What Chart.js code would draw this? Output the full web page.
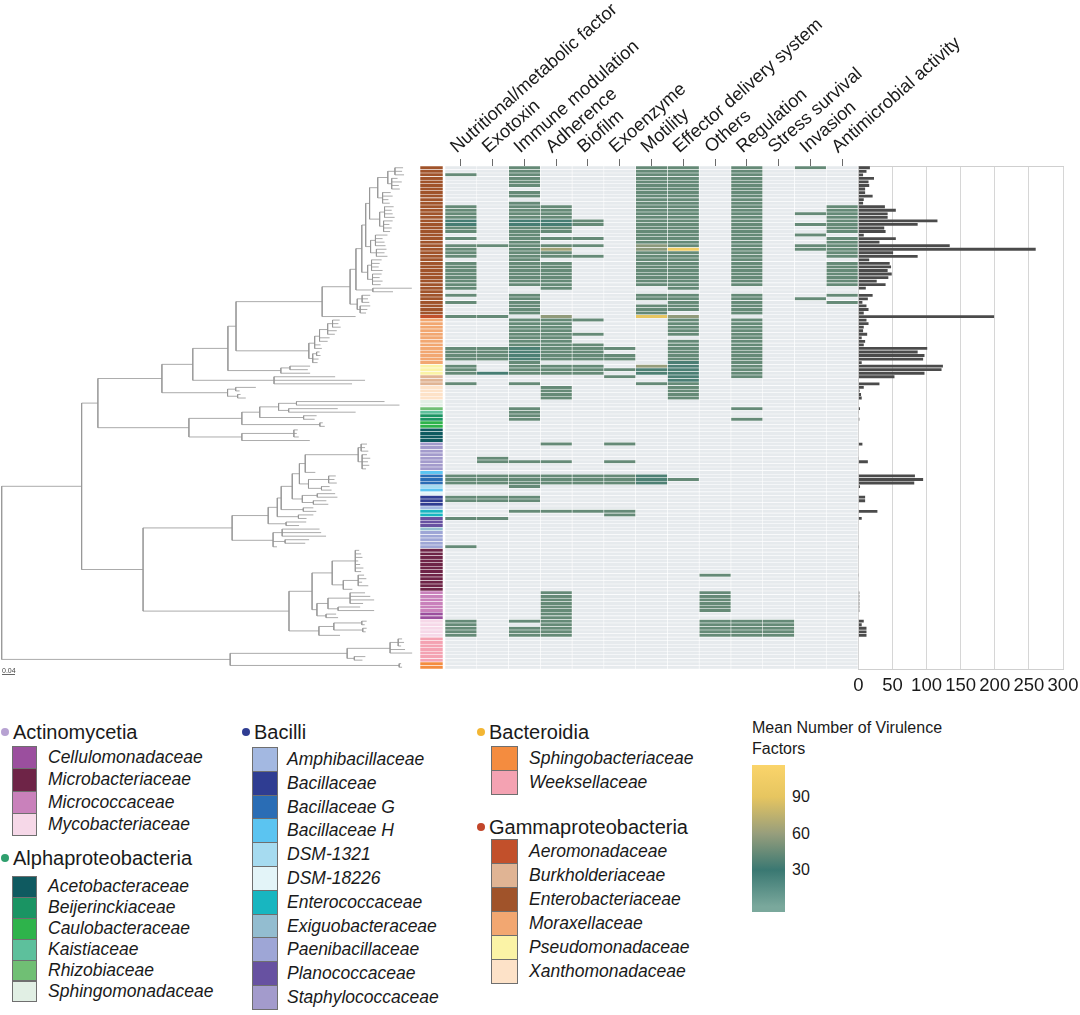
<!DOCTYPE html>
<html>
<head>
<meta charset="utf-8">
<script src="https://cdn.jsdelivr.net/npm/chart.js@4.4.1/dist/chart.umd.min.js"></script>
<style>
  html, body { margin: 0; padding: 0; background: #fff; }
  body { width: 1080px; height: 1015px; position: relative; overflow: hidden;
         font-family: 'Liberation Sans', Arial, Helvetica, sans-serif; color: #1a1a1a; }
  canvas { position: absolute; }
  .hdr { position: absolute; white-space: nowrap; font-size: 20px; line-height: 22px; }
  .dot { position: absolute; width: 8px; height: 8px; border-radius: 50%; }
  .sw { position: absolute; box-sizing: border-box; border: 1px solid #6f6f6f; }
  .fam { position: absolute; white-space: nowrap; font-style: italic; font-size: 17.5px; line-height: 20px; }
  .cbt { position: absolute; white-space: nowrap; font-size: 16px; line-height: 18px; }
  #scalebar { position: absolute; left: 2px; top: 667px; width: 13px; font-size: 7px; line-height: 7px;
              text-align: center; color: #444; border-bottom: 1px solid #666; }
</style>
</head>
<body>
<canvas id="tree" width="420" height="680" style="left:0;top:0"></canvas>
<canvas id="heat" width="665" height="680" style="left:415px;top:0"></canvas>
<canvas id="bars" width="240" height="700" style="left:840px;top:0"></canvas>
<div id="scalebar">0.04</div>
<div id="legend"></div>
<script>
// ---- data -------------------------------------------------------------

const vfCategories = ['Nutritional/metabolic factor', 'Exotoxin', 'Immune modulation', 'Adherence',
  'Biofilm', 'Exoenzyme', 'Motility', 'Effector delivery system', 'Others', 'Regulation',
  'Stress survival', 'Invasion', 'Antimicrobial activity'];

// family of each tip, top to bottom: [family, number of tips]
const rowFamilies = [
  ['Enterobacteriaceae', 42], ['Aeromonadaceae', 1], ['Moraxellaceae', 13], ['Pseudomonadaceae', 3],
  ['Burkholderiaceae', 3], ['Xanthomonadaceae', 4], ['Sphingomonadaceae', 2], ['Rhizobiaceae', 1],
  ['Kaistiaceae', 1], ['Beijerinckiaceae', 2], ['Caulobacteraceae', 2], ['Acetobacteraceae', 4],
  ['Staphylococcaceae', 8], ['Bacillaceae H', 1], ['Bacillaceae G', 3], ['DSM-1321', 1],
  ['Bacillaceae H', 1], ['DSM-18226', 1], ['Bacillaceae', 3], ['Amphibacillaceae', 1],
  ['Enterococcaceae', 2], ['Planococcaceae', 3], ['Exiguobacteraceae', 1], ['Paenibacillaceae', 5],
  ['Microbacteriaceae', 12], ['Micrococcaceae', 6], ['Cellulomonadaceae', 2], ['Mycobacteriaceae', 5],
  ['Weeksellaceae', 7], ['Sphingobacteriaceae', 2]
];

// mean number of virulence factors, as runs of tips: [first row, last row, value]
const nutritionalMetabolic = [[2,2,44],[11,14,44],[15,16,34],[17,18,44],[20,20,44],[22,25,44],[27,34,44],
  [36,36,44],[38,38,44],[42,42,44],[51,54,44],[56,58,44],[61,61,44],[87,89,44],[93,94,44],[99,99,44],
  [107,107,44],[128,132,44]];
const exotoxin = [[22,22,44],[42,42,44],[51,54,44],[58,58,34],[82,83,44],[87,89,44],[93,94,44],[99,99,44]];
const immuneModulation = [[0,5,44],[7,8,44],[10,14,44],[15,16,34],[17,33,44],[36,41,44],[43,50,44],
  [51,54,36],[55,58,44],[61,61,44],[68,71,44],[83,83,44],[87,90,44],[93,94,44],[97,97,44],
  [128,128,44],[130,132,44]];
const adherence = [[11,14,44],[15,16,34],[17,18,44],[20,20,44],[22,22,44],[23,23,64],[24,25,44],
  [27,34,44],[42,42,58],[43,54,44],[56,58,44],[62,65,44],[78,78,44],[83,83,44],[87,89,44],[97,97,44],
  [120,132,44]];
const biofilm = [[15,16,44],[20,20,44],[22,22,44],[25,25,44],[43,43,44],[47,47,44],[50,54,44],
  [56,58,44],[87,89,44],[97,97,44]];
const exoenzyme = [[51,51,44],[53,54,44],[57,57,44],[59,59,44],[78,78,44],[83,83,44],[87,89,44],[97,98,44]];
const motility = [[0,21,44],[22,23,56],[24,33,44],[36,37,44],[39,41,44],[42,42,92],[56,56,60],
  [57,58,36],[61,61,44],[87,89,36]];
const effectorDelivery = [[0,22,44],[23,23,104],[24,34,44],[36,40,44],[42,42,58],[43,47,44],
  [49,54,44],[55,60,35],[61,65,44],[88,88,44]];
const others = [[115,115,44],[120,125,44],[128,132,44]];
const regulation = [[0,33,44],[36,41,44],[43,59,44],[68,68,44],[71,71,44],[128,132,44]];
const stressSurvival = [[128,132,44]];
const invasion = [[0,0,44],[13,13,44],[16,16,44],[19,19,44],[22,23,44],[37,37,44]];
const antimicrobialActivity = [[11,18,44],[20,25,44],[27,33,44],[36,36,44],[38,38,44]];

// right-hand bars, one per tip
const barValues = [
  17, 12, 7, 23, 15, 16, 10, 10, 21, 8,
  7, 39, 55, 43, 43, 116, 87, 38, 40, 8,
  55, 31, 134, 260, 51, 87, 16, 46, 48, 43,
  49, 44, 27, 40, 11, 0, 21, 14, 6, 12,
  15, 8, 199, 12, 15, 8, 7, 13, 5, 10,
  8, 101, 87, 97, 95, 5, 124, 122, 97, 53,
  1, 31, 8, 2, 4, 5, 0, 0, 2.5, 1,
  0, 1.5, 0, 0, 0, 0, 0, 0, 6, 0,
  0, 0, 1, 14, 0, 0, 0, 83, 95, 82,
  2.5, 0, 0, 10, 10, 0, 0, 28, 0, 5,
  0, 0, 0, 0, 0, 0, 0, 1, 0, 0,
  0, 0, 0, 0, 0, 1, 0, 0, 0, 0,
  1.5, 1.5, 1.5, 1.5, 1.5, 1.5, 0, 0, 8, 5,
  12, 12, 12, 0, 0, 0, 0, 0, 0, 0,
  0, 0
];
const barTicks = [0, 50, 100, 150, 200, 250, 300];

// tree: a node is [branch length, ...children], a tip is its branch length
const treeBranches =
[0,
  [0.246,
    [0.050,
      [0.197,
        [0.095,
          [0.108,
            [0.025,
              [0.265,
                [0.086,
                  [0.018,
                    [0.018,
                      [0.012,
                        [0.012,
                          [0.025,
                            [0.031, [0.022, 0.025, 0.022, 0.028], [0.012, 0.018, 0.031, 0.022, 0.025]],
                            [0.015, 0.025, 0.031, 0.018, 0.022]
                          ],
                          [0.031, [0.015, 0.028, 0.022, 0.025, 0.031], [0.012, 0.028, 0.018, 0.025, 0.020]]
                        ],
                        [0.015, [0.015, 0.037, 0.022, 0.028, 0.031], [0.018, 0.031, 0.025, 0.034]]
                      ],
                      [0.018, [0.012, 0.031, 0.025, 0.022, 0.034], [0.015, 0.028, 0.022, 0.031, 0.025]]
                    ],
                    [0.052, 0.120, 0.062]
                  ],
                  [0.022, [0.015, 0.025, 0.018, 0.022], [0.009, 0.031, 0.022, 0.018]]
                ],
                0.103
              ],
              [0.224,
                [0.018, [0.015, [0.025, [0.015, 0.022, 0.018, 0.025], 0.028, 0.022], 0.031, 0.025], 0.018, 0.022],
                [0.012, [0.012, 0.009, 0.012], 0.018, 0.015]
              ]
            ],
            [0.163, [0.028, 0.062, 0.055], 0.090]
          ],
          [0.250, 0.188, 0.280, 0.240]
        ],
        [0.202, [0.025, 0.062, 0.012], [0.031, 0.009, 0.025]]
      ],
      [0.280,
        [0.163,
          [0.055,
            [0.058, [0.055, 0.271, 0.317], [0.031, 0.151, 0.206]],
            [0.135, 0.040, 0.034]
          ],
          [0.240, 0.009, 0.015]
        ],
        [0.163, [0.160, 0.012, 0.009, 0.015], 0.209]
      ]
    ],
    [0.189,
      [0.274,
        [0.111,
          [0.028,
            [0.012,
              [0.034,
                [0.022,
                  [0.018,
                    [0.163, [0.009, 0.018, 0.012, 0.022], [0.012, 0.015, 0.025, 0.018, 0.022, 0.012]],
                    0.031
                  ],
                  [0.028, [0.062, 0.022, 0.018, 0.025], [0.040, 0.025, 0.031]]
                ],
                [0.031, [0.046, 0.055, 0.062], [0.034, 0.040, 0.046]]
              ],
              [0.068, 0.031, 0.040]
            ],
            [0.065, 0.046, 0.025]
          ],
          [0.055, 0.062, 0.040]
        ],
        [0.126, [0.028, 0.115, 0.120, 0.135], [0.037, 0.074, 0.062], 0.012]
      ],
      [0.449,
        [0.071,
          [0.062,
            [0.071, 0.012, 0.018, 0.022, 0.009, 0.015, 0.025, 0.018],
            [0.034, [0.046, 0.018, 0.025, 0.012, 0.031], 0.028]
          ],
          [0.015,
            [0.034, [0.068, 0.046, 0.062, 0.074, 0.040], [0.031, 0.068, 0.111]],
            [0.028, 0.031, 0.037]
          ]
        ],
        [0.092, [0.046, [0.086, 0.015, 0.009], [0.089, 0.012, 0.009]], 0.065]
      ]
    ]
  ],
  [0.703,
    [0.360, [0.132, [0.025, 0.012, 0.018, 0.009], 0.046, 0.068], [0.022, 0.034, 0.025]],
    [0.520, 0.006, 0.009]
  ]
];

// legend contents
const classNames = ['Actinomycetia', 'Alphaproteobacteria', 'Bacilli', 'Bacteroidia', 'Gammaproteobacteria'];
const actinomycetia = ['Cellulomonadaceae', 'Microbacteriaceae', 'Micrococcaceae', 'Mycobacteriaceae'];
const alphaproteobacteria = ['Acetobacteraceae', 'Beijerinckiaceae', 'Caulobacteraceae', 'Kaistiaceae',
  'Rhizobiaceae', 'Sphingomonadaceae'];
const bacilli = ['Amphibacillaceae', 'Bacillaceae', 'Bacillaceae G', 'Bacillaceae H', 'DSM-1321', 'DSM-18226',
  'Enterococcaceae', 'Exiguobacteraceae', 'Paenibacillaceae', 'Planococcaceae', 'Staphylococcaceae'];
const bacteroidia = ['Sphingobacteriaceae', 'Weeksellaceae'];
const gammaproteobacteria = ['Aeromonadaceae', 'Burkholderiaceae', 'Enterobacteriaceae', 'Moraxellaceae',
  'Pseudomonadaceae', 'Xanthomonadaceae'];
const colorbarTicks = [30, 60, 90];

// ---- styles -----------------------------------------------------------

const familyColors = {
  'Cellulomonadaceae': '#9b4f9e', 'Microbacteriaceae': '#6e2447', 'Micrococcaceae': '#c981bb',
  'Mycobacteriaceae': '#f6d8e8', 'Acetobacteraceae': '#0f5a60', 'Beijerinckiaceae': '#1a9463',
  'Caulobacteraceae': '#2eb34b', 'Kaistiaceae': '#5dc09c', 'Rhizobiaceae': '#70bf74',
  'Sphingomonadaceae': '#e1efe4', 'Amphibacillaceae': '#a3b8e1', 'Bacillaceae': '#2f3d92',
  'Bacillaceae G': '#2a6db5', 'Bacillaceae H': '#5bc4f1', 'DSM-1321': '#a6dbf0', 'DSM-18226': '#e3f4f8',
  'Enterococcaceae': '#18b6c0', 'Exiguobacteraceae': '#93bdd0', 'Paenibacillaceae': '#9ea6d6',
  'Planococcaceae': '#6751a1', 'Staphylococcaceae': '#a39bcc', 'Sphingobacteriaceae': '#f48c3f',
  'Weeksellaceae': '#f4a2b2', 'Aeromonadaceae': '#c2502b', 'Burkholderiaceae': '#e0b494',
  'Enterobacteriaceae': '#a0532a', 'Moraxellaceae': '#f2a771', 'Pseudomonadaceae': '#fbf3a6',
  'Xanthomonadaceae': '#fde2c8'
};
const classDots = { Actinomycetia: '#b7a2d2', Alphaproteobacteria: '#2f9f6e', Bacilli: '#2f3d92',
  Bacteroidia: '#f3b634', Gammaproteobacteria: '#c2462a' };
const vfStops = [[0, '#7aa89c'], [30, '#3a7872'], [60, '#979e7c'], [90, '#e6c560'], [116, '#fad46a']];
const absentColor = '#e6eaed';
const cellLine = 'rgba(255,255,255,0.55)';

function hexRgb(h) { return [1, 3, 5].map(i => parseInt(h.slice(i, i + 2), 16)); }
function vfColor(v) {
  let i = 0;
  while (i < vfStops.length - 2 && v > vfStops[i + 1][0]) i++;
  const [v0, c0] = vfStops[i], [v1, c1] = vfStops[i + 1];
  const t = Math.max(0, Math.min(1, (v - v0) / (v1 - v0)));
  const a = hexRgb(c0), b = hexRgb(c1);
  return 'rgb(' + a.map((x, k) => Math.round(x + (b[k] - x) * t)).join(',') + ')';
}

Chart.defaults.font.family = "'Liberation Sans', Arial, Helvetica, sans-serif";
Chart.defaults.color = '#1a1a1a';

const rowIds = barValues.map((_, i) => String(i));
const N = rowIds.length;
const tipFamily = rowFamilies.flatMap(([f, n]) => Array(n).fill(f));

// ---- tree ---------------------------------------------------------------

const treePath = [];
let nextTip = 0;
function placeNode(node, parentDepth) {
  const tip = typeof node === 'number';
  const depth = parentDepth + (tip ? node : node[0]);
  let y;
  if (tip) {
    y = nextTip++;
  } else {
    const kids = node.slice(1).map(k => placeNode(k, depth));
    y = kids.reduce((s, k) => s + k, 0) / kids.length;
    treePath.push({ x: depth, y: kids[0] }, { x: depth, y: kids[kids.length - 1] }, { x: NaN, y: NaN });
  }
  treePath.push({ x: parentDepth, y }, { x: depth, y }, { x: NaN, y: NaN });
  return y;
}
placeNode(treeBranches, 0);

new Chart(document.getElementById('tree'), {
  type: 'scatter',
  data: { datasets: [{ data: treePath, showLine: true, borderColor: '#959595', borderWidth: 0.8,
    pointRadius: 0, spanGaps: false }] },
  options: {
    responsive: false, animation: false, events: [],
    layout: { padding: { top: 166, bottom: 11, left: 0, right: 0 } },
    plugins: { legend: { display: false }, tooltip: { enabled: false } },
    scales: {
      x: { type: 'linear', display: false, min: -0.0052, max: 1.2871 },
      y: { type: 'linear', display: false, min: -0.5, max: N - 0.5, reverse: true }
    }
  }
});

// ---- heatmap ------------------------------------------------------------

const vfColumns = [nutritionalMetabolic, exotoxin, immuneModulation, adherence, biofilm, exoenzyme,
  motility, effectorDelivery, others, regulation, stressSurvival, invasion, antimicrobialActivity];
function expandRuns(runs) {
  const a = new Array(N).fill(0);
  runs.forEach(([s, e, v]) => { for (let i = s; i <= e; i++) a[i] = v; });
  return a;
}
const stripFrom = -1.287, stripTo = -0.563;
const cellStyle = { borderColor: cellLine, borderWidth: 0.6, borderSkipped: false, grouped: false,
  barPercentage: 1, categoryPercentage: 1 };
const heatSets = [Object.assign({
  data: tipFamily.map(() => [stripFrom, stripTo]),
  backgroundColor: tipFamily.map(f => familyColors[f])
}, cellStyle)];
vfColumns.forEach((runs, c) => {
  const vals = expandRuns(runs);
  heatSets.push(Object.assign({
    data: vals.map(() => [c - 0.5, c + 0.5]),
    backgroundColor: vals.map(v => v > 0 ? vfColor(v) : absentColor)
  }, cellStyle));
});

new Chart(document.getElementById('heat'), {
  type: 'bar',
  data: { labels: rowIds, datasets: heatSets },
  options: {
    indexAxis: 'y', responsive: false, animation: false, events: [],
    layout: { padding: { top: 0, bottom: 11, left: 5, right: 222 } },
    plugins: { legend: { display: false }, tooltip: { enabled: false } },
    scales: {
      y: { display: false },
      x: {
        type: 'linear', position: 'top', min: stripFrom, max: vfCategories.length - 0.5,
        afterBuildTicks: ax => { ax.ticks = vfCategories.map((_, i) => ({ value: i })); },
        afterFit: ax => { ax.height = 166; ax.paddingLeft = 0; ax.paddingRight = 0; },
        ticks: { autoSkip: false, minRotation: 41.5, maxRotation: 41.5, padding: 1, labelOffset: 7,
          color: '#1a1a1a', font: { size: 18.2 }, callback: v => vfCategories[v] },
        grid: { drawOnChartArea: false, drawTicks: true, tickLength: 7, tickColor: '#6b6b6b', tickWidth: 1 },
        border: { display: false }
      }
    }
  }
});

// ---- bars ---------------------------------------------------------------

new Chart(document.getElementById('bars'), {
  type: 'bar',
  data: { labels: rowIds, datasets: [{ data: barValues, backgroundColor: '#4b4b4b',
    barPercentage: 0.8, categoryPercentage: 1 }] },
  options: {
    indexAxis: 'y', responsive: false, animation: false, events: [],
    layout: { padding: { top: 166, bottom: 0, left: 18.3, right: 17 } },
    plugins: { legend: { display: false }, tooltip: { enabled: false } },
    scales: {
      y: { display: false },
      x: {
        position: 'bottom', min: barTicks[0], max: barTicks[barTicks.length - 1],
        afterBuildTicks: ax => { ax.ticks = barTicks.map(v => ({ value: v })); },
        afterFit: ax => { ax.height = 31; ax.paddingLeft = 0; ax.paddingRight = 0; },
        ticks: { autoSkip: false, minRotation: 0, maxRotation: 0, padding: 6, color: '#1a1a1a',
          font: { size: 18.5 } },
        grid: { color: '#d6d6d6', drawTicks: false },
        border: { color: '#cfcfcf' }
      },
      xTop: {
        axis: 'x', position: 'top', min: barTicks[0], max: barTicks[barTicks.length - 1],
        afterFit: ax => { ax.height = 0; },
        ticks: { display: false }, grid: { display: false }, border: { color: '#cfcfcf' }
      }
    }
  }
});

// ---- legend -------------------------------------------------------------

const legendLayout = {
  Actinomycetia:       { fams: actinomycetia,       x: 1,   y: 732, swX: 12,  swW: 25, top: 746, rowH: 22.3, textX: 48 },
  Alphaproteobacteria: { fams: alphaproteobacteria, x: 1,   y: 858, swX: 12,  swW: 25, top: 876, rowH: 20.9, textX: 48 },
  Bacilli:             { fams: bacilli,             x: 242, y: 732, swX: 252, swW: 26, top: 747, rowH: 23.8, textX: 287 },
  Bacteroidia:         { fams: bacteroidia,         x: 477, y: 732, swX: 491, swW: 27, top: 746, rowH: 24,   textX: 529 },
  Gammaproteobacteria: { fams: gammaproteobacteria, x: 477, y: 827, swX: 491, swW: 27, top: 839, rowH: 24,   textX: 529 }
};
const legend = document.getElementById('legend');
function add(cls, css, text) {
  const d = document.createElement('div');
  d.className = cls;
  Object.assign(d.style, css);
  if (text) d.textContent = text;
  legend.appendChild(d);
  return d;
}
classNames.forEach(name => {
  const L = legendLayout[name];
  add('dot', { left: L.x + 'px', top: (L.y - 4) + 'px', background: classDots[name] });
  add('hdr', { left: (L.x + 12) + 'px', top: (L.y - 11) + 'px' }, name);
  L.fams.forEach((f, i) => {
    const top = L.top + i * L.rowH;
    add('sw', { left: L.swX + 'px', top: top + 'px', width: L.swW + 'px', height: (L.rowH + 1) + 'px',
      background: familyColors[f] });
    add('fam', { left: L.textX + 'px', top: (top + L.rowH / 2 - 10) + 'px' }, f);
  });
});

// colour bar
const cb = { x: 752, top: 765, bottom: 912, w: 33, vTop: 116.4, vBottom: -4.5 };
const pct = v => ((v - cb.vBottom) / (cb.vTop - cb.vBottom) * 100).toFixed(1) + '%';
add('cbt', { left: cb.x + 'px', top: '719px' }, 'Mean Number of Virulence');
add('cbt', { left: cb.x + 'px', top: '740px' }, 'Factors');
add('', { position: 'absolute', left: cb.x + 'px', top: cb.top + 'px', width: cb.w + 'px',
  height: (cb.bottom - cb.top) + 'px',
  background: 'linear-gradient(to top, ' + vfStops.map(([v, c]) => c + ' ' + pct(v)).join(', ') + ')' });
colorbarTicks.forEach(v => {
  const y = cb.bottom - (v - cb.vBottom) / (cb.vTop - cb.vBottom) * (cb.bottom - cb.top);
  add('cbt', { left: (cb.x + cb.w + 7) + 'px', top: (y - 9) + 'px' }, String(v));
});
</script>
</body>
</html>
